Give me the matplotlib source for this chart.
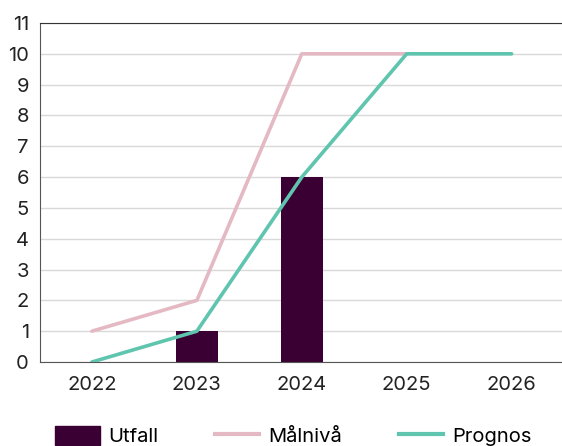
import matplotlib.pyplot as plt
import matplotlib.patches as mpatches
from matplotlib.lines import Line2D

years = ['2022', '2023', '2024', '2025', '2026']
utfall = [0, 1, 6, 0, 0]
malniva = [1, 2, 10, 10]
prognos = [0, 1, 6, 10, 10]

bar_color = '#3a0033'
pink = '#e5b9c3'
teal = '#5fc5ae'

plt.rcParams['font.family'] = ['Inter', 'DejaVu Sans']

fig = plt.figure(figsize=(5.62, 4.46), dpi=100)
ax = fig.add_axes([40 / 562, 1 - 362 / 446, 1 - 40 / 562, (362 - 23) / 446])

x = list(range(len(years)))
ax.bar(x, utfall, width=0.4, color=bar_color, zorder=2)
ax.plot(x[:len(malniva)], malniva, color=pink, linewidth=2.6, solid_capstyle='round', zorder=3)
ax.plot(x, prognos, color=teal, linewidth=2.6, solid_capstyle='round', zorder=4)

ax.set_xlim(-0.495, 4.48)
ax.set_ylim(0, 11)
ax.set_yticks(range(0, 12))
ax.set_xticks(x)
ax.set_xticklabels(years)
ax.tick_params(axis='both', length=0, labelsize=14.5, colors='#222222')
ax.tick_params(axis='x', pad=10)
ax.tick_params(axis='y', pad=8)
ax.grid(axis='y', color='#d9d9d9', linewidth=1, zorder=0)
ax.set_axisbelow(True)

ax.spines['right'].set_visible(False)
ax.spines['top'].set_color('#333333')
ax.spines['left'].set_color('#555555')
ax.spines['bottom'].set_color('#555555')

handles = [
    mpatches.Patch(color=bar_color, label='Utfall'),
    Line2D([0], [0], color=pink, linewidth=3, label='Målnivå'),
    Line2D([0], [0], color=teal, linewidth=3, label='Prognos'),
]
fig.legend(handles=handles, loc='center', bbox_to_anchor=(0.522, 0.022), ncol=3,
           frameon=False, fontsize=14.5, handlelength=2.2, handleheight=1.1,
           columnspacing=2.8, handletextpad=0.45)

fig.savefig('out.png', dpi=100)
